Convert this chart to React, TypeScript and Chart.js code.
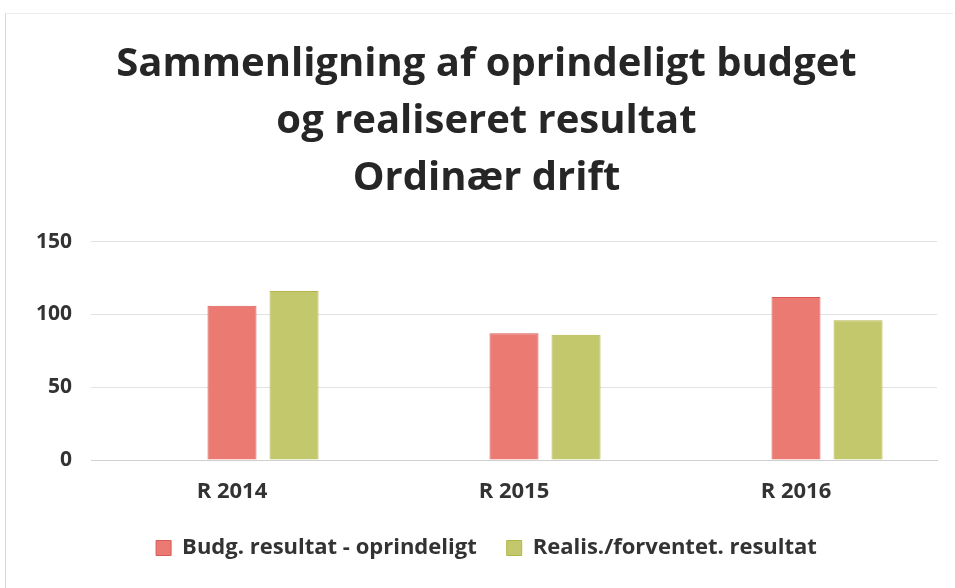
import React, { useEffect, useRef } from "react";
import { Chart, registerables } from "chart.js";

Chart.register(...registerables);

const titleLines = ["Sammenligning af oprindeligt budget", "og realiseret resultat", "Ordinær drift"];
const categories = ["R 2014", "R 2015", "R 2016"];
const budgetLabel = "Budg. resultat - oprindeligt";
const realisLabel = "Realis./forventet. resultat";
const budgetValues = [106, 87, 112];
const realisValues = [116, 86, 96];
const spacerValues: (number | null)[] = [null, null, null];
const yTicks = [0, 50, 100, 150];

const FONT = "'Open Sans', 'Noto Sans', sans-serif";
const TEXT = "#333333";

export default function App() {
  const ref = useRef<HTMLCanvasElement | null>(null);

  useEffect(() => {
    document.body.style.margin = "0";
    const ctx = ref.current;
    if (!ctx) return;
    const chart = new Chart(ctx, {
      type: "bar",
      data: {
        labels: categories,
        datasets: [
          {
            label: "__spacer",
            data: spacerValues,
            backgroundColor: "rgba(0,0,0,0)",
          },
          {
            label: budgetLabel,
            data: budgetValues,
            backgroundColor: "#eb7a72",
            borderColor: "#d95a55",
            borderWidth: 1,
          },
          {
            label: realisLabel,
            data: realisValues,
            backgroundColor: "#c4c86c",
            borderColor: "#b3b548",
            borderWidth: 1,
          },
        ],
      },
      options: {
        animation: false,
        responsive: false,
        maintainAspectRatio: false,
        datasets: {
          bar: {
            categoryPercentage: 0.66,
            barPercentage: 0.79,
          },
        },
        layout: {
          padding: { left: 36, right: 18, top: 0, bottom: 19 },
        },
        plugins: {
          tooltip: { enabled: false },
          title: {
            display: true,
            text: titleLines,
            color: "#262626",
            font: { family: FONT, size: 40, weight: "bold", lineHeight: 1.43 },
            padding: { top: 36, bottom: 34 },
          },
          legend: {
            display: true,
            position: "bottom",
            fullSize: true,
            labels: {
              filter: (item) => item.text !== "__spacer",
              boxWidth: 15,
              boxHeight: 15,
              padding: 30,
              color: TEXT,
              font: { family: FONT, size: 22, weight: "bold" },
            },
          },
        },
        scales: {
          x: {
            grid: { display: false, drawTicks: false },
            border: { display: true, color: "#d0d0d0", width: 1 },
            ticks: {
              color: TEXT,
              font: { family: FONT, size: 22, weight: "bold" },
              padding: 19,
            },
            afterFit: (scale) => {
              scale.height = 47;
            },
          },
          y: {
            min: 0,
            max: 150,
            afterBuildTicks: (axis) => {
              axis.ticks = yTicks.map((v) => ({ value: v }));
            },
            afterFit: (scale) => {
              scale.width = 55;
            },
            grid: { color: "#e2e2e2", lineWidth: 1, drawTicks: false },
            border: { display: false },
            ticks: {
              color: TEXT,
              font: { family: FONT, size: 21, weight: "bold" },
              padding: 19,
            },
          },
        },
      },
    });
    return () => chart.destroy();
  }, []);

  return (
    <div style={{ position: "relative", width: 955, height: 588, background: "#fff" }}>
      <div
        style={{
          position: "absolute",
          left: 5,
          top: 13,
          width: 948,
          height: 575,
          borderLeft: "1px solid #d8d8d8",
          borderTop: "1px solid #ececec",
          boxSizing: "border-box",
          pointerEvents: "none",
        }}
      />
      <canvas ref={ref} width={955} height={588} style={{ position: "absolute", left: 0, top: 0 }} />
    </div>
  );
}
